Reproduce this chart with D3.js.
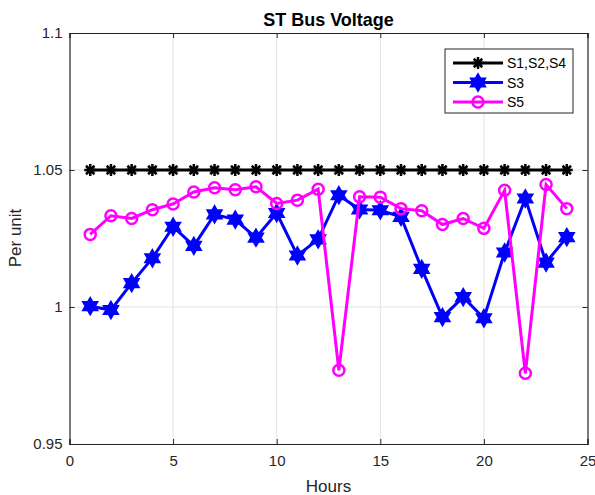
<!DOCTYPE html>
<html>
<head>
<meta charset="utf-8">
<script src="https://cdn.jsdelivr.net/npm/d3@7"></script>
<style>
  body { margin: 0; background: #fff; }
  text { font-family: "Liberation Sans", Arial, sans-serif; }
</style>
</head>
<body>
<div id="chart"></div>
<script>
var hours = d3.range(1, 25);
var s124 = [1.05, 1.05, 1.05, 1.05, 1.05, 1.05, 1.05, 1.05, 1.05, 1.05, 1.05, 1.05,
            1.05, 1.05, 1.05, 1.05, 1.05, 1.05, 1.05, 1.05, 1.05, 1.05, 1.05, 1.05];
var s3 = [1.0003, 0.9989, 1.0087, 1.0178, 1.0293, 1.0223, 1.0338, 1.0319, 1.0253, 1.0343, 1.0188, 1.0247,
          1.0408, 1.0356, 1.0353, 1.0329, 1.0139, 0.9963, 1.0036, 0.9959, 1.0199, 1.0396, 1.0162, 1.0255];
var s5 = [1.0265, 1.0333, 1.0323, 1.0355, 1.0376, 1.0420, 1.0435, 1.0428, 1.0439, 1.0378, 1.0390, 1.0430,
          0.9769, 1.0402, 1.0401, 1.0359, 1.0351, 1.0301, 1.0323, 1.0287, 1.0426, 0.9758, 1.0447, 1.0359];
var xTicks = [0, 5, 10, 15, 20, 25];
var yTicks = [0.95, 1, 1.05, 1.1];
var yTickLabels = ["0.95", "1", "1.05", "1.1"];
var seriesNames = ["S1,S2,S4", "S3", "S5"];

var width = 595, height = 495;
var margin = {top: 33, right: 7.5, bottom: 51, left: 69.5};

var svg = d3.select("#chart").append("svg")
    .attr("width", width)
    .attr("height", height);

var x = d3.scaleLinear().domain([0, 25]).range([margin.left, width - margin.right]);
var y = d3.scaleLinear().domain([0.95, 1.1]).range([height - margin.bottom, margin.top]);

// grid
svg.append("g").selectAll("line.gx")
    .data(xTicks.slice(1, -1))
    .enter().append("line")
    .attr("x1", d => x(d)).attr("x2", d => x(d))
    .attr("y1", y(0.95)).attr("y2", y(1.1))
    .attr("stroke", "#e2e2e2").attr("stroke-width", 1);
svg.append("g").selectAll("line.gy")
    .data(yTicks.slice(1, -1))
    .enter().append("line")
    .attr("x1", x(0)).attr("x2", x(25))
    .attr("y1", d => y(d)).attr("y2", d => y(d))
    .attr("stroke", "#e2e2e2").attr("stroke-width", 1);

// axes (ticks pointing inward, box on)
var bottomAxis = d3.axisBottom(x).tickValues(xTicks).tickSize(-5).tickPadding(11).tickFormat(d3.format("d"));
var topAxis = d3.axisTop(x).tickValues(xTicks).tickSize(-5).tickFormat("");
var leftAxis = d3.axisLeft(y).tickValues(yTicks).tickSize(-5).tickPadding(7)
    .tickFormat((d, i) => yTickLabels[i]);
var rightAxis = d3.axisRight(y).tickValues(yTicks).tickSize(-5).tickFormat("");

function styleAxis(g) {
    g.selectAll("path").attr("stroke", "#262626").attr("stroke-width", 1.2);
    g.selectAll("line").attr("stroke", "#262626");
    g.selectAll("text").attr("fill", "#262626").style("font-size", "15px")
        .style("font-family", "Liberation Sans, Arial, sans-serif");
}

svg.append("g").attr("transform", "translate(0," + y(0.95) + ")").call(bottomAxis).call(styleAxis);
svg.append("g").attr("transform", "translate(0," + y(1.1) + ")").call(topAxis).call(styleAxis);
svg.append("g").attr("transform", "translate(" + x(0) + ",0)").call(leftAxis).call(styleAxis);
svg.append("g").attr("transform", "translate(" + x(25) + ",0)").call(rightAxis).call(styleAxis);

// marker symbols
var asterisk = {
    draw: function(ctx, size) {
        var r = Math.sqrt(size) / 2;
        var d = r * Math.SQRT1_2;
        ctx.moveTo(-r, 0); ctx.lineTo(r, 0);
        ctx.moveTo(0, -r); ctx.lineTo(0, r);
        ctx.moveTo(-d, -d); ctx.lineTo(d, d);
        ctx.moveTo(-d, d); ctx.lineTo(d, -d);
    }
};
var hexagram = {
    draw: function(ctx, size) {
        var R = Math.sqrt(size) / 2;
        var r = R / Math.sqrt(3);
        for (var i = 0; i < 12; i++) {
            var a = -Math.PI / 2 + i * Math.PI / 6;
            var rr = i % 2 === 0 ? R : r;
            if (i === 0) ctx.moveTo(rr * Math.cos(a), rr * Math.sin(a));
            else ctx.lineTo(rr * Math.cos(a), rr * Math.sin(a));
        }
        ctx.closePath();
    }
};

var series = [
    {name: seriesNames[0], values: s124, color: "#000000", marker: "asterisk"},
    {name: seriesNames[1], values: s3, color: "#0000ff", marker: "hexagram"},
    {name: seriesNames[2], values: s5, color: "#ff00ff", marker: "circle"}
];

var line = d3.line().x((d, i) => x(hours[i])).y(d => y(d));

function drawMarker(sel, s) {
    if (s.marker === "asterisk") {
        sel.append("path")
            .attr("d", d3.symbol().type(asterisk).size(144)())
            .attr("fill", "none").attr("stroke", s.color).attr("stroke-width", 2.5);
    } else if (s.marker === "hexagram") {
        sel.append("path")
            .attr("d", d3.symbol().type(hexagram).size(300)())
            .attr("fill", s.color).attr("stroke", s.color).attr("stroke-width", 1.5)
            .attr("stroke-linejoin", "miter");
    } else {
        sel.append("circle")
            .attr("r", 5.5)
            .attr("fill", "none").attr("stroke", s.color).attr("stroke-width", 2.5);
    }
}

series.forEach(function(s) {
    svg.append("path")
        .datum(s.values)
        .attr("d", line)
        .attr("fill", "none")
        .attr("stroke", s.color)
        .attr("stroke-width", 3)
        .attr("stroke-linejoin", "miter");
    svg.append("g").selectAll("g")
        .data(s.values)
        .enter().append("g")
        .attr("transform", (d, i) => "translate(" + x(hours[i]) + "," + y(d) + ")")
        .each(function() { drawMarker(d3.select(this), s); });
});

// legend
var legend = svg.append("g").attr("transform", "translate(445,49)");
legend.append("rect")
    .attr("width", 128).attr("height", 64)
    .attr("fill", "#fff").attr("stroke", "#262626").attr("stroke-width", 1);
series.forEach(function(s, i) {
    var row = legend.append("g").attr("transform", "translate(0," + (14 + i * 19.5) + ")");
    row.append("line")
        .attr("x1", 8).attr("x2", 58)
        .attr("stroke", s.color).attr("stroke-width", 3);
    var m = row.append("g").attr("transform", "translate(33,0)");
    drawMarker(m, s);
    row.append("text")
        .attr("x", 62).attr("y", 5)
        .style("font-size", "14px")
        .attr("fill", "#000")
        .text(s.name);
});

// titles
svg.append("text")
    .attr("x", (x(0) + x(25)) / 2).attr("y", 26)
    .attr("text-anchor", "middle")
    .style("font-size", "18px").style("font-weight", "bold")
    .attr("fill", "#000")
    .text("ST Bus Voltage");

svg.append("text")
    .attr("x", (x(0) + x(25)) / 2).attr("y", 492)
    .attr("text-anchor", "middle")
    .style("font-size", "17px")
    .attr("fill", "#262626")
    .text("Hours");

svg.append("text")
    .attr("transform", "translate(21,238) rotate(-90)")
    .attr("text-anchor", "middle")
    .style("font-size", "17px")
    .attr("fill", "#262626")
    .text("Per unit");
</script>
</body>
</html>
